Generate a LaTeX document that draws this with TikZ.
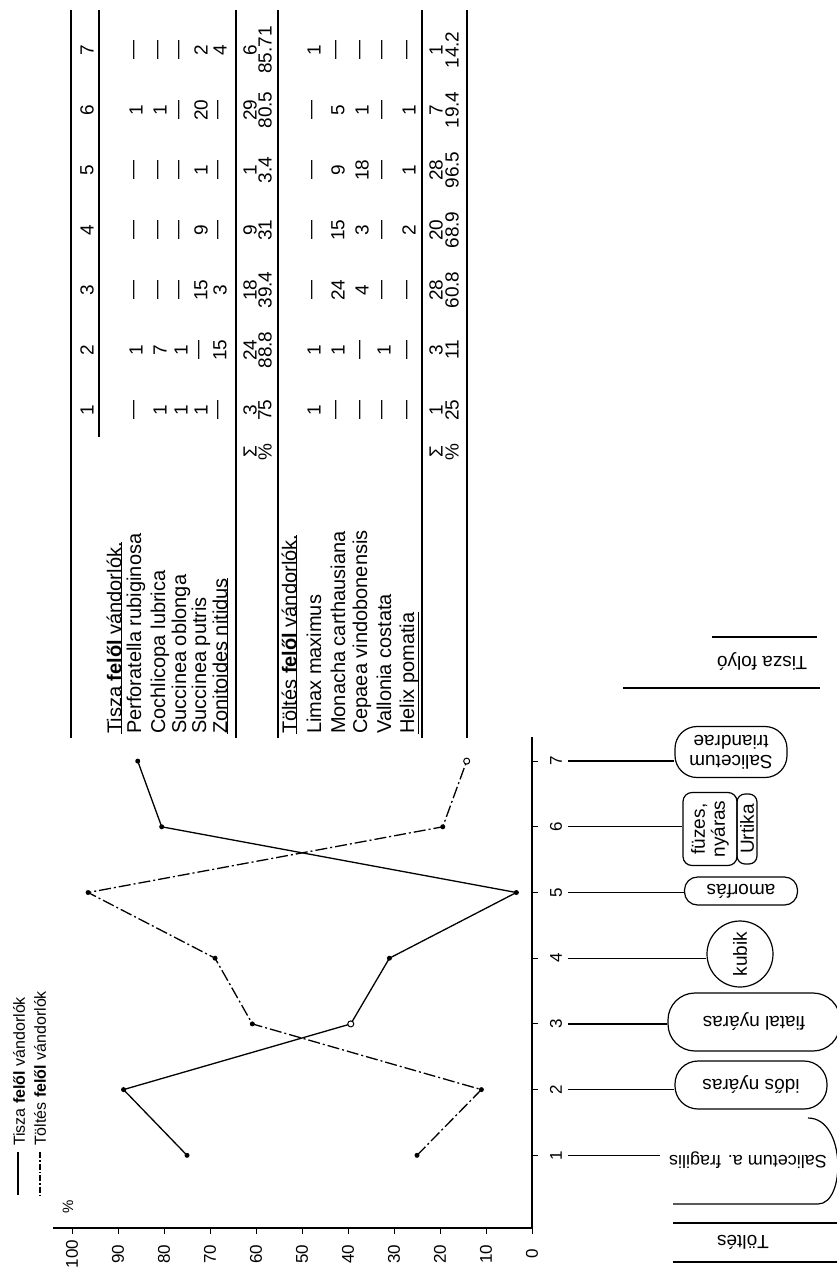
\documentclass[tikz,border=0pt]{standalone}
\usepackage{fontspec}
\setmainfont{Liberation Sans}
\usepackage{tikz}
\usetikzlibrary{positioning}

\begin{document}
\begin{tikzpicture}[x=1pt,y=-1pt,
  rule/.style={line width=2.6pt},
  thinrule/.style={line width=1.2pt},
  entry/.style={rotate=90,inner sep=0pt,font=\fontsize{19}{20}\selectfont},
  rowlabel/.style={rotate=90,anchor=west,inner sep=0pt,font=\fontsize{20}{21}\selectfont},
  ticklabel/.style={rotate=90,inner sep=0pt,font=\fontsize{17}{18}\selectfont},
  habitat/.style={draw,line width=1.2pt,inner sep=1pt,align=center,font=\fontsize{19}{20}\selectfont},
  link/.style={line width=1.3pt},
  tisza/.style={line width=1.3pt},
  toltes/.style={line width=1.3pt,dash pattern=on 12pt off 3pt on 2pt off 3pt},
  dot/.style={circle,fill,inner sep=0pt,minimum size=5pt},
  odot/.style={circle,draw,fill=white,line width=1pt,inner sep=0pt,minimum size=6pt}]
\useasboundingbox (0,0) rectangle (836,1274);

% table
\draw[rule] (71,10) -- (71,738);
\draw[thinrule] (99,10) -- (99,437);
\draw[rule] (236,10) -- (236,738);
\draw[rule] (278,10) -- (278,738);
\draw[rule] (422,10) -- (422,738);
\draw[rule] (467,10) -- (467,738);
\foreach \c in {1,...,7}
  \node[entry] (head\c) at (87,{410-60*(\c-1)}) {\c};

\node[rowlabel] (tisza) at (114,734) {Tisza \textbf{felől} vándorlók.};
\node[rowlabel] (perf) at (136,734) {Perforatella rubiginosa};
\node[rowlabel] (coch) at (160,734) {Cochlicopa lubrica};
\node[rowlabel] (sobl) at (181,734) {Succinea oblonga};
\node[rowlabel] (sput) at (201,734) {Succinea putris};
\node[rowlabel] (zoni) at (220,734) {Zonitoides nitidus};
\node[rowlabel] (toltes) at (289,734) {Töltés \textbf{felől} vándorlók.};
\node[rowlabel] (limax) at (314,734) {Limax maximus};
\node[rowlabel] (mona) at (338,734) {Monacha carthausiana};
\node[rowlabel] (cepa) at (362,734) {Cepaea vindobonensis};
\node[rowlabel] (vall) at (384,734) {Vallonia costata};
\node[rowlabel] (helix) at (409,734) {Helix pomatia};
\foreach \n in {tisza,zoni,toltes,helix}
  \draw[thinrule] (\n.south west) -- (\n.south east);

\foreach \x/\vals [count=\r] in {136/{---,1,---,---,---,1,---},160/{1,7,---,---,---,1,---},
    181/{1,1,---,---,---,---,---},201/{1,---,15,9,1,20,2},220/{---,15,3,---,---,---,4},
    250/{3,24,18,9,1,29,6},265/{75,88.8,39.4,31,3.4,80.5,85.71},
    314/{1,1,---,---,---,---,1},338/{---,1,24,15,9,5,---},362/{---,---,4,3,18,1,---},
    384/{---,1,---,---,---,---,---},409/{---,---,---,2,1,1,---},
    436/{1,3,28,20,28,7,1},452/{25,11,60.8,68.9,96.5,19.4,14.2}}
  \foreach \v [count=\c] in \vals
    \node[entry] (cell\r-\c) at (\x,{410-60*(\c-1)}) {\v};
\node[entry] (sum1) at (250,452) {Σ};
\node[entry] (pct1) at (265,452) {\%};
\node[entry] (sum2) at (436,452) {Σ};
\node[entry] (pct2) at (452,452) {\%};

% chart
\coordinate (ctop) at (532,737);
\coordinate (corner) at (532,1228);
\coordinate (pend) at (53,1228);
\draw[line width=1.3pt] (ctop) -- (corner) -- (pend);
\foreach \k in {1,...,7} {
  \draw[line width=1pt] (532,{1221-65.7*\k}) -- ++(6,0);
  \node[ticklabel] (cat\k) at (556,{1221-65.7*\k}) {\k};
  \coordinate (c\k) at (568,{1221-65.7*\k});
}
\foreach \p in {0,10,...,100} {
  \draw[line width=1pt] ({532-4.6*\p},1228) -- ++(0,6);
  \node[ticklabel] (val\p) at ({532-4.6*\p},1254) {\p};
}
\node[ticklabel,font=\fontsize{15}{16}\selectfont] (unit) at (68,1207) {\%};

\foreach \v [count=\i] in {75,88.8,39.4,31,3.4,80.5,85.71}
  \coordinate (ti\i) at ({532-4.6*\v},{1221-65.7*\i});
\foreach \v [count=\i] in {25,11,60.8,68.9,96.5,19.4,14.2}
  \coordinate (to\i) at ({532-4.6*\v},{1221-65.7*\i});
\draw[tisza] (ti1) -- (ti2) -- (ti3) -- (ti4) -- (ti5) -- (ti6) -- (ti7);
\draw[toltes] (to1) -- (to2) -- (to3) -- (to4) -- (to5) -- (to6) -- (to7);
\foreach \i in {1,2,4,5,6,7}
  \node[dot] (tidot\i) at (ti\i) {};
\node[odot] (tidot3) at (ti3) {};
\foreach \i in {1,...,6}
  \node[dot] (todot\i) at (to\i) {};
\node[odot] (todot7) at (to7) {};

% legend
\draw[tisza] (18,1152) -- (18,1195);
\node[rowlabel,font=\fontsize{16}{17}\selectfont] (leg1) at (19,1146) {Tisza \textbf{felől} vándorlók};
\draw[toltes,dash pattern=on 6pt off 2pt on 1.5pt off 2pt] (40,1152) -- (40,1195);
\node[rowlabel,font=\fontsize{16}{17}\selectfont] (leg2) at (40,1146) {Töltés \textbf{felől} vándorlók};

% habitats
\draw[thinrule] (712,637) -- (817,637);
\draw[thinrule] (623,688) -- (820,688);
\node[rotate=180,font=\fontsize{19}{20}\selectfont] (river) at (762,662) {Tisza folyó};
\node[habitat,rotate=180,rounded corners=22pt,minimum width=112pt,minimum height=51pt] (b7) at (731,752) {Salicetum\\triandrae};
\node[habitat,rotate=90,rounded corners=9pt,minimum width=73pt,minimum height=54pt] (b6) at (710,829) {füzes,\\nyáras};
\node[habitat,rotate=90,rounded corners=8pt,minimum width=70pt,minimum height=20pt] (b6u) at (747,829) {Urtika};
\node[habitat,rotate=180,rounded corners=13pt,minimum width=113pt,minimum height=28pt] (b5) at (741,891) {amorfás};
\node[habitat,rotate=90,circle,minimum size=66pt] (b4) at (740,954) {kubik};
\node[habitat,rotate=180,rounded corners=27pt,minimum width=172pt,minimum height=58pt] (b3) at (754,1022) {fiatal nyáras};
\node[habitat,rotate=180,rounded corners=23pt,minimum width=152pt,minimum height=48pt] (b2) at (751,1085) {idős nyáras};
\node[rotate=180,inner sep=1pt,font=\fontsize{18}{19}\selectfont] (b1) at (748,1160) {Salicetum a. fragilis};
\draw[thinrule] (673,1204) -- (818,1204) .. controls (846,1204) and (846,1118) .. (808,1118);
\draw[link] (c7) -- (c7 -| b7.east);
\draw[link] (c6) -- (c6 -| b6.north);
\draw[link] (c5) -- (c5 -| b5.east);
\draw[link] (c4) -- (c4 -| b4.north);
\draw[link] (c3) -- (c3 -| b3.east);
\draw[link] (c2) -- (c2 -| b2.east);
\draw[link] (c1) -- ([xshift=-8pt]c1 -| b1.east);
\draw[thinrule] (673,1223) -- (840,1223);
\draw[thinrule] (673,1262) -- (840,1262);
\node[rotate=180,font=\fontsize{19}{20}\selectfont] (embank) at (743,1242) {Töltés};
\end{tikzpicture}
\end{document}
